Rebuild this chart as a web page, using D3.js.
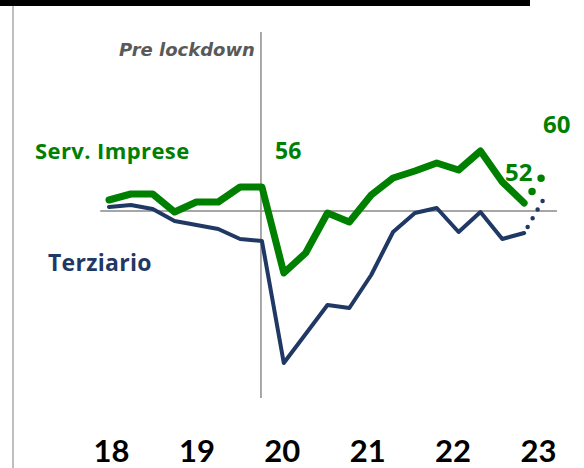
<!DOCTYPE html>
<html>
<head>
<meta charset="utf-8">
<script src="https://cdn.jsdelivr.net/npm/d3@7"></script>
<style>
    body { margin: 0; background: #fff; }
    svg { display: block; font-family: 'Open Sans', Lato, sans-serif; }
</style>
</head>
<body>
<svg id="chart" width="584" height="468"></svg>
<script>
    // quarterly values, 2018 Q1 .. 2022 Q4
    const servImprese = [52.75, 54.25, 54.25, 49.75, 52.25, 52.25, 56, 56, 34.5, 39.5, 49.5, 47.25, 54, 58.25, 60, 62, 60.25, 65, 57.25, 52];
    const terziario = [51, 51.5, 50.5, 47.5, 46.5, 45.5, 43, 42.5, 12, 19.25, 26.5, 25.75, 34, 44.75, 49.5, 50.75, 44.75, 49.75, 43, 44.5];
    // forecast step (last quarter -> next)
    const servImpreseForecast = [52, 60];
    const terziarioForecast = [44.5, 54];
    const years = [2018, 2019, 2020, 2021, 2022, 2023];
    const yearLabels = ["18", "19", "20", "21", "22", "23"];

    const green = "#008000";
    const navy = "#1f3864";

    const svg = d3.select("#chart");

    const x = d3.scaleLinear().domain([0, 20]).range([109, 546]);
    const y = d3.scaleLinear().domain([0, 70]).range([411, 131]);
    const xYear = d3.scaleLinear().domain([2018, 2023]).range([111, 538]);

    // frame bits
    svg.append("rect").attr("x", 0).attr("y", 0).attr("width", 530).attr("height", 6).attr("fill", "#000");
    svg.append("line").attr("x1", 13).attr("x2", 13).attr("y1", 6).attr("y2", 468)
        .attr("stroke", "#bfbfbf").attr("stroke-width", 2);

    // 50 line and pre lockdown marker
    svg.append("line").attr("x1", x(-0.4)).attr("x2", x(20.5)).attr("y1", y(50)).attr("y2", y(50))
        .attr("stroke", "#a6a6a6").attr("stroke-width", 2);
    svg.append("line").attr("x1", x(7) - 1).attr("x2", x(7) - 1).attr("y1", 32).attr("y2", 398)
        .attr("stroke", "#8c8c8c").attr("stroke-width", 1.5);
    svg.append("text").attr("x", x(7) - 7).attr("y", 56).attr("text-anchor", "end")
        .attr("font-family", "'DejaVu Sans', sans-serif")
        .attr("font-size", 18).attr("font-style", "italic").attr("font-weight", 700)
        .attr("fill", "#595959").text("Pre lockdown");

    const line = d3.line()
        .x((d, i) => x(i))
        .y(d => y(d));
    const lineF = d3.line()
        .x((d, i) => x(19 + i))
        .y(d => y(d));

    svg.append("path").attr("d", line(terziario)).attr("fill", "none")
        .attr("stroke", navy).attr("stroke-width", 4).attr("stroke-linejoin", "round").attr("stroke-linecap", "round");
    svg.append("path").attr("d", lineF(terziarioForecast)).attr("fill", "none")
        .attr("stroke", navy).attr("stroke-width", 4.5).attr("stroke-linecap", "round")
        .attr("stroke-dasharray", "0 10").attr("stroke-dashoffset", -7);

    svg.append("path").attr("d", line(servImprese)).attr("fill", "none")
        .attr("stroke", green).attr("stroke-width", 7).attr("stroke-linejoin", "round").attr("stroke-linecap", "round");
    svg.append("path").attr("d", lineF(servImpreseForecast)).attr("fill", "none")
        .attr("stroke", green).attr("stroke-width", 7.5).attr("stroke-linecap", "round")
        .attr("stroke-dasharray", "0 16").attr("stroke-dashoffset", -14);

    // labels
    svg.append("text").attr("x", 35).attr("y", 159).attr("font-size", 22).attr("font-weight", 700)
        .attr("fill", green).attr("letter-spacing", 0.4).text("Serv. Imprese");
    svg.append("text").attr("x", 48).attr("y", 271).attr("font-size", 23).attr("font-weight", 700)
        .attr("fill", navy).attr("letter-spacing", 0.3).text("Terziario");
    svg.append("text").attr("x", 275).attr("y", 159).attr("font-size", 23).attr("font-weight", 700)
        .attr("fill", green).text(servImprese[7]);
    svg.append("text").attr("x", 505).attr("y", 181).attr("font-size", 24).attr("font-weight", 700)
        .attr("fill", green).text(servImpreseForecast[0]);
    svg.append("text").attr("x", 543).attr("y", 133).attr("font-size", 24).attr("font-weight", 700)
        .attr("fill", green).text(servImpreseForecast[1]);

    // year axis
    const axis = d3.axisBottom(xYear).tickValues(years).tickSize(0)
        .tickFormat((d, i) => yearLabels[i]);
    const gx = svg.append("g").attr("transform", "translate(0,434)").call(axis);
    gx.select(".domain").remove();
    gx.selectAll("text").attr("font-size", 31).attr("font-weight", 700)
        .attr("font-family", "Lato, sans-serif").attr("fill", "#000").attr("dy", "0.8em");
</script>
</body>
</html>
